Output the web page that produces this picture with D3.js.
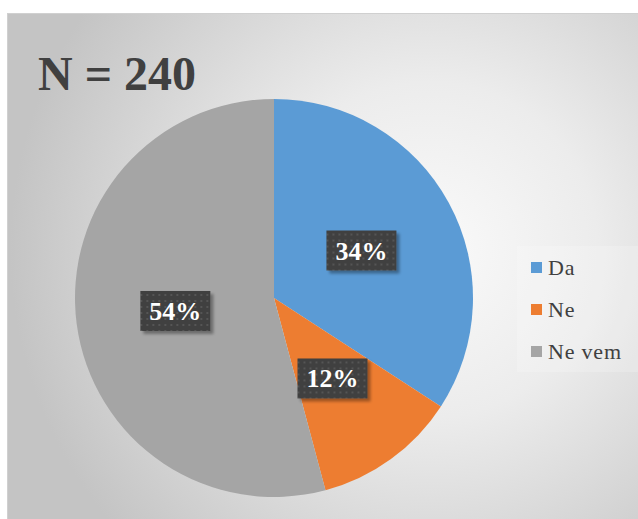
<!DOCTYPE html>
<html>
<head>
<meta charset="utf-8">
<script src="https://cdn.jsdelivr.net/npm/d3@7"></script>
<style>
  body { margin: 0; background: #fff; }
  svg { display: block; }
</style>
</head>
<body>
<div id="chart"></div>
<script>
// answers out of N = 240
const categories = ['Da', 'Ne', 'Ne vem']
const counts = [82, 28, 130]
const pctLabels = ['34%', '12%', '54%']
const colors = ['#5b9bd5', '#ed7d31', '#a5a5a5']
const title = 'N = 240'

const W = 638, H = 519
const svg = d3.select('#chart').append('svg')
  .attr('width', W)
  .attr('height', H)

const defs = svg.append('defs')
const bg = defs.append('radialGradient')
  .attr('id', 'bg')
  .attr('gradientUnits', 'userSpaceOnUse')
  .attr('cx', 430).attr('cy', 250).attr('r', 420)
bg.append('stop').attr('offset', '0%').attr('stop-color', '#fafafa')
bg.append('stop').attr('offset', '40%').attr('stop-color', '#ececec')
bg.append('stop').attr('offset', '100%').attr('stop-color', '#c4c4c4')

const pat = defs.append('pattern')
  .attr('id', 'dots')
  .attr('patternUnits', 'userSpaceOnUse')
  .attr('width', 6).attr('height', 6)
pat.append('rect').attr('width', 6).attr('height', 6).attr('fill', '#404040')
pat.append('rect').attr('x', 1).attr('y', 1).attr('width', 2).attr('height', 2).attr('fill', '#555555')

const shadow = defs.append('filter').attr('id', 'shadow')
  .attr('x', '-20%').attr('y', '-20%').attr('width', '140%').attr('height', '140%')
shadow.append('feGaussianBlur').attr('in', 'SourceAlpha').attr('stdDeviation', 1.5)
shadow.append('feOffset').attr('dx', 3).attr('dy', 3).attr('result', 'off')
shadow.append('feComponentTransfer').append('feFuncA').attr('type', 'linear').attr('slope', 0.35)
const merge = shadow.append('feMerge')
merge.append('feMergeNode')
merge.append('feMergeNode').attr('in', 'SourceGraphic')

// chart area
svg.append('rect')
  .attr('x', 7.5).attr('y', 13.5)
  .attr('width', W - 7).attr('height', H - 13)
  .attr('fill', 'url(#bg)')
  .attr('stroke', '#d0d0d0')

svg.append('text')
  .attr('x', 38).attr('y', 90)
  .attr('font-family', '"Liberation Serif", "Times New Roman", serif')
  .attr('font-weight', 'bold')
  .attr('font-size', '48px')
  .attr('fill', '#404040')
  .text(title)

// pie
const cx = 274, cy = 298, r = 199
const pie = d3.pie().sort(null).value(d => d)
const arcs = pie(counts)
const arc = d3.arc().innerRadius(0).outerRadius(r)

const g = svg.append('g').attr('transform', `translate(${cx}, ${cy})`)
g.selectAll('path')
  .data(arcs)
  .join('path')
  .attr('d', arc)
  .attr('fill', (d, i) => colors[i])

// data labels
const labels = g.selectAll('g.lab')
  .data(arcs)
  .join('g')
  .attr('class', 'lab')
  .attr('transform', d => `translate(${arc.centroid(d)})`)

labels.append('rect')
  .attr('x', -35).attr('y', -20)
  .attr('width', 70).attr('height', 40)
  .attr('fill', 'url(#dots)')
  .attr('filter', 'url(#shadow)')

labels.append('text')
  .attr('text-anchor', 'middle')
  .attr('y', 9)
  .attr('font-family', '"Liberation Serif", "Times New Roman", serif')
  .attr('font-weight', 'bold')
  .attr('font-size', '26px')
  .attr('fill', '#ffffff')
  .text((d, i) => pctLabels[i])

// legend
svg.append('rect')
  .attr('x', 517).attr('y', 246)
  .attr('width', W - 517).attr('height', 126)
  .attr('fill', '#ffffff').attr('opacity', 0.2)

const legend = svg.append('g').attr('transform', 'translate(531, 268)')
categories.forEach((c, i) => {
  const row = legend.append('g').attr('transform', `translate(0, ${i * 42})`)
  row.append('rect')
    .attr('y', -6)
    .attr('width', 11).attr('height', 11)
    .attr('fill', colors[i])
  row.append('text')
    .attr('x', 17).attr('y', 7)
    .attr('font-family', '"Liberation Serif", "Times New Roman", serif')
    .attr('font-size', '22px')
    .attr('letter-spacing', '0.8px')
    .attr('fill', '#404040')
    .text(c)
})
</script>
</body>
</html>
